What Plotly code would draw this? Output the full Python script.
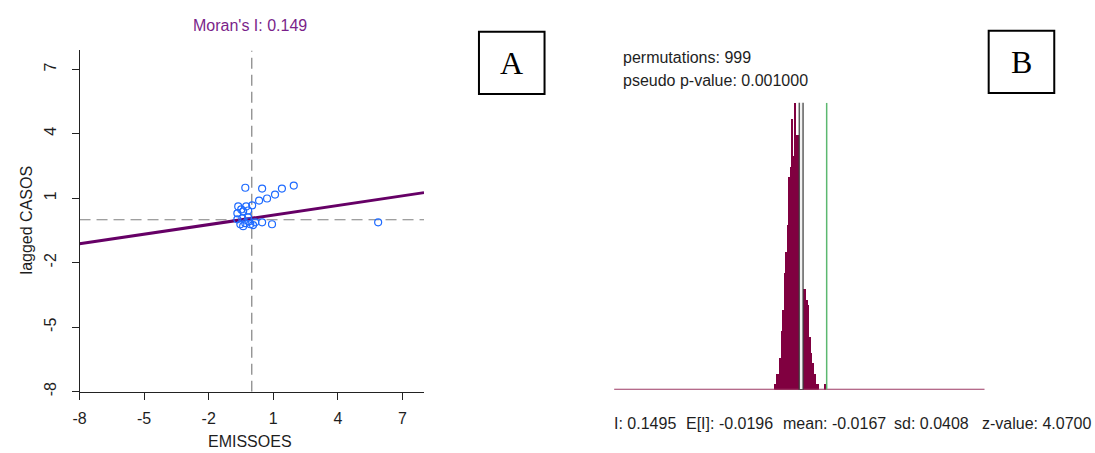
import numpy as np
import plotly.graph_objects as go

# ---------------- data ----------------
# Panel A: Moran scatter plot (standardised EMISSOES vs lagged CASOS)
emissoes = [-0.30, 0.48, 1.08, 1.40, 1.95, 0.34, 0.71, -0.63, -0.26, 0.02,
            -0.67, -0.40, -0.49, -0.17, -0.67, -0.44, -0.17, -0.53, -0.30,
            -0.07, 0.16, 0.48, 0.94, -0.40, 0.06, -0.12, 5.87]
lagged_casos = [1.49, 1.45, 1.17, 1.45, 1.59, 0.89, 0.99, 0.62, 0.62, 0.67,
                0.30, 0.39, 0.48, 0.43, 0.02, 0.06, 0.11, -0.21, -0.16,
                -0.21, -0.12, -0.12, -0.21, -0.30, -0.25, -0.07, -0.12]
morans_i = 0.149
reg_intercept = 0.07
axis_ticks = [-8, -5, -2, 1, 4, 7]
axis_tick_labels = ["-8", "-5", "-2", "1", "4", "7"]

# Panel B: permutation reference distribution
perm_counts = [1, 1, 3, 3, 3, 6, 6, 11, 15, 15, 22, 26, 26, 31, 40, 40, 42, 51,
               44, 44, 54, 48, 48, 48, 48, 48, 48, 48, 19, 19, 19, 16, 17, 16,
               10, 10, 7, 5, 5, 3, 3, 1, 1, 1, 0, 0, 0, 0, 0, 0, 1]
hist_start = -0.1865
bin_width = 0.00647
obs_I = 0.1495
exp_I = -0.0196
perm_mean = -0.0167
perm_sd = 0.0408
z_value = 4.0700
permutations = 999
pseudo_p = 0.001000
hist_range = [-1.2344, 1.1783]

# ---------------- figure ----------------
W, H = 1095, 453
def px(x):
    return x / W
def py(y):
    return 1 - y / H

FONT = "Liberation Sans, Arial, sans-serif"
SERIF = "Liberation Serif, Times New Roman, serif"
TXT = "#1e1e1e"
fig = go.Figure()

# regression line
xl = np.array([-8.0, 8.0])
fig.add_trace(go.Scatter(x=xl, y=morans_i * xl + reg_intercept, mode="lines",
                         line=dict(color="#660066", width=3),
                         xaxis="x", yaxis="y", showlegend=False, hoverinfo="skip"))
# points
fig.add_trace(go.Scatter(x=emissoes, y=lagged_casos, mode="markers",
                         marker=dict(symbol="circle-open", size=7,
                                     color="#1f6bff", line=dict(width=1.2)),
                         xaxis="x", yaxis="y", showlegend=False))

# histogram bars
centers = hist_start + bin_width * (np.arange(len(perm_counts)) + 0.5)
fig.add_trace(go.Bar(x=centers, y=perm_counts, width=bin_width,
                     marker=dict(color="#800040", line=dict(width=0)),
                     xaxis="x2", yaxis="y2", showlegend=False))

ymax = max(perm_counts)
shapes = [
    dict(type="line", xref="x", yref="y", x0=0, x1=0, y0=-8, y1=7.88,
         line=dict(color="#808080", width=1.2, dash="11px,6px"), layer="below"),
    dict(type="line", xref="x", yref="y", x0=-8, x1=8, y0=0, y1=0,
         line=dict(color="#808080", width=1.2, dash="11px,6px"), layer="below"),
    dict(type="line", xref="x2", yref="y2", x0=hist_range[0], x1=hist_range[1],
         y0=0, y1=0, line=dict(color="#9c3a64", width=2)),
    dict(type="rect", xref="x2", yref="y2", x0=perm_mean - 0.0125,
         x1=perm_mean + 0.0125, y0=0, y1=ymax * 1.008,
         line=dict(color="#3a3a3a", width=1.2), fillcolor="#f2f2f2"),
    dict(type="line", xref="x2", yref="y2", x0=obs_I, x1=obs_I, y0=0, y1=ymax,
         line=dict(color="#5cb870", width=1.5)),
    dict(type="rect", xref="paper", yref="paper", x0=px(475), x1=px(541),
         y0=py(95), y1=py(32), line=dict(color="black", width=2)),
    dict(type="rect", xref="paper", yref="paper", x0=px(988), x1=px(1054),
         y0=py(94), y1=py(31), line=dict(color="black", width=2)),
]

def ann(text, x, y, size=16, color=TXT, xanchor="center", family=FONT, **kw):
    return dict(text=text, x=px(x), y=py(y), xref="paper", yref="paper",
                xanchor=xanchor, yanchor="middle", showarrow=False,
                font=dict(family=family, size=size, color=color), **kw)

stats_texts = [f"I: {obs_I:.4f}", f"E[I]: {exp_I:.4f}", f"mean: {perm_mean:.4f}",
               f"sd: {perm_sd:.4f}", f"z-value: {z_value:.4f}"]
stats_x = [609, 681, 779, 891, 979]

annotations = [
    ann(f"Moran's I: {morans_i:.3f}", 245, 26, color="#7a1f8a"),
    ann("EMISSOES", 245, 446),
    ann("lagged CASOS", 20, 222, textangle=-90),
    ann("A", 508, 64, size=32, color="black", family=SERIF),
    ann("B", 1021, 63, size=32, color="black", family=SERIF),
    ann(f"permutations: {permutations}", 618, 58, xanchor="left"),
    ann(f"pseudo p-value: {pseudo_p:.6f}", 618, 81, xanchor="left"),
] + [ann(t, x, 428, xanchor="left") for t, x in zip(stats_texts, stats_x)]

axis_common = dict(showgrid=False, zeroline=False, showline=True, linecolor="#222",
                   linewidth=1, ticks="outside", ticklen=7, tickcolor="#222",
                   tickfont=dict(family=FONT, size=16, color=TXT),
                   tickmode="array", tickvals=axis_ticks, ticktext=axis_tick_labels,
                   fixedrange=True)

fig.update_layout(
    width=W, height=H, margin=dict(l=0, r=0, t=0, b=0),
    paper_bgcolor="white", plot_bgcolor="rgba(0,0,0,0)",
    showlegend=False, bargap=0,
    xaxis=dict(domain=[px(73), px(419.7)], range=[-8, 8], anchor="y",
               ticklabelstandoff=5, **axis_common),
    yaxis=dict(domain=[py(396), py(51)], range=[-8, 7.88], anchor="x",
               tickangle=-90, ticklabelstandoff=9, **axis_common),
    xaxis2=dict(domain=[px(611), px(984)], range=hist_range, anchor="y2", visible=False),
    yaxis2=dict(domain=[py(394), py(104)], range=[0, ymax], anchor="x2", visible=False),
    shapes=shapes, annotations=annotations,
)

css_js = ("var s='margin:0;padding:0;overflow:hidden;width:1095px;height:453px;';"
          "document.documentElement.style.cssText=s;document.body.style.cssText=s;")
fig.write_html("out.html", config={"displayModeBar": False}, post_script=css_js)
